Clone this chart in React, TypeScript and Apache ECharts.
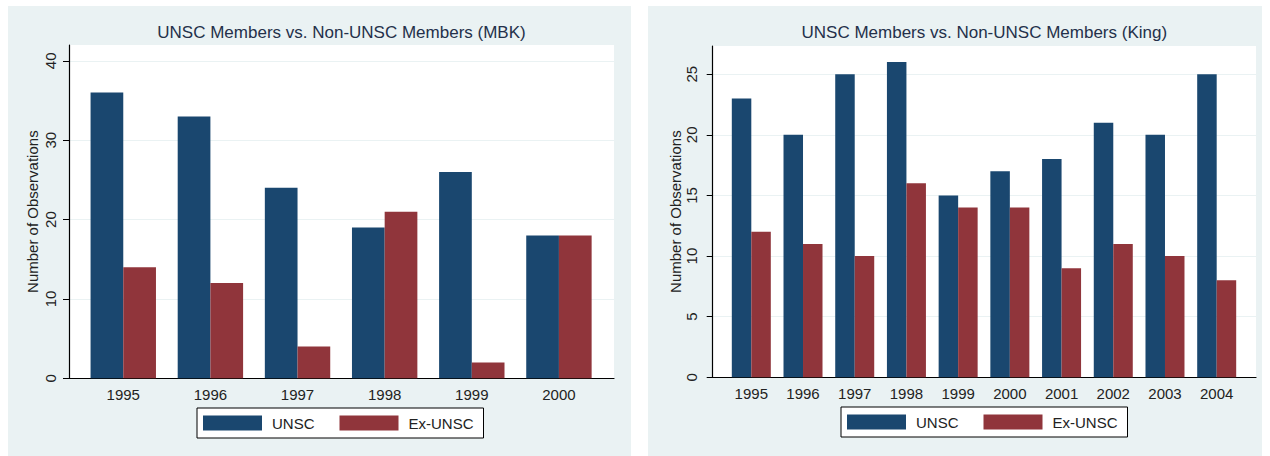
import React, { useEffect, useRef } from "react";
import * as echarts from "echarts";

const mbkYears = ["1995", "1996", "1997", "1998", "1999", "2000"];
const mbkUNSC = [36, 33, 24, 19, 26, 18];
const mbkExUNSC = [14, 12, 4, 21, 2, 18];
const mbkTicks = [0, 10, 20, 30, 40];

const kingYears = ["1995", "1996", "1997", "1998", "1999", "2000", "2001", "2002", "2003", "2004"];
const kingUNSC = [23, 20, 25, 26, 15, 17, 18, 21, 20, 25];
const kingExUNSC = [12, 11, 10, 16, 14, 14, 9, 11, 10, 8];
const kingTicks = [0, 5, 10, 15, 20, 25];

const titleLeft = "UNSC Members vs. Non-UNSC Members (MBK)";
const titleRight = "UNSC Members vs. Non-UNSC Members (King)";
const yName = "Number of Observations";

const NAVY = "#1a476f";
const MAROON = "#90353b";
const BG = "#eaf2f3";
const FONT = "'Liberation Sans', Arial, sans-serif";
const TXT = "#222222";

export default function App() {
  const ref = useRef<HTMLDivElement>(null);
  useEffect(() => {
    if (!ref.current) return;
    const chart = echarts.init(ref.current, undefined, { renderer: "svg" });

    const bgX = (gi: number) => ({
      type: "value" as const,
      gridIndex: gi,
      min: 0,
      max: 1,
      axisLine: { show: true, lineStyle: { color: "#000", width: 1.2 } },
      axisTick: { show: false },
      axisLabel: { show: false },
      splitLine: { show: false },
    });
    const catX = (gi: number, data: string[]) => ({
      type: "category" as const,
      gridIndex: gi,
      data,
      axisLine: { show: false },
      axisTick: { show: false },
      axisLabel: { fontSize: 15, color: TXT, fontFamily: FONT, margin: 9 },
    });
    const bgY = (gi: number, max: number, interval: number, ticks: number[], margin: number, nameGap: number) => ({
      type: "value" as const,
      gridIndex: gi,
      min: 0,
      max,
      interval,
      name: yName,
      nameLocation: "middle" as const,
      nameGap,
      nameTextStyle: { fontSize: 15, color: TXT, fontFamily: FONT },
      axisLine: { show: true, lineStyle: { color: "#000", width: 1.2 } },
      axisTick: { show: true, length: 6, lineStyle: { color: "#000" }, customValues: ticks },
      axisLabel: { rotate: 90, fontSize: 15, color: TXT, fontFamily: FONT, margin, customValues: ticks },
      splitLine: { show: true, lineStyle: { color: BG, width: 1 } },
    });
    const hidY = (gi: number, max: number) => ({
      type: "value" as const,
      gridIndex: gi,
      min: 0,
      max,
      show: false,
    });
    const legend = (left: number, top: number) => ({
      left,
      top,
      orient: "horizontal" as const,
      data: ["UNSC", "Ex-UNSC"],
      icon: "rect",
      itemWidth: 59,
      itemHeight: 15,
      itemGap: 25,
      padding: [7, 10, 7, 6],
      backgroundColor: "#fff",
      borderColor: "#000",
      borderWidth: 1,
      borderRadius: 0,
      selectedMode: false,
      textStyle: { fontSize: 15, color: TXT, fontFamily: FONT, padding: [0, 0, 0, 5], lineHeight: 16 },
    });

    chart.setOption({
      animation: false,
      backgroundColor: "#ffffff",
      graphic: [
        { type: "rect", z: -10, shape: { x: 8, y: 6, width: 623, height: 450 }, style: { fill: BG } },
        { type: "rect", z: -10, shape: { x: 648, y: 6, width: 614, height: 450 }, style: { fill: BG } },
        {
          type: "text",
          x: 341.5,
          y: 32,
          style: { text: titleLeft, textAlign: "center", textVerticalAlign: "middle", fontSize: 17, fontFamily: FONT, fill: "#24304a" },
        },
        {
          type: "text",
          x: 984.3,
          y: 32,
          style: { text: titleRight, textAlign: "center", textVerticalAlign: "middle", fontSize: 17, fontFamily: FONT, fill: "#24304a" },
        },
      ],
      legend: [legend(197, 408), legend(841, 407)],
      grid: [
        { left: 69, top: 45, width: 545, height: 333.3, show: true, backgroundColor: "#fff", borderWidth: 0 },
        { left: 79.7, top: 45, width: 522.8, height: 333.3 },
        { left: 712.7, top: 46, width: 543.3, height: 331.3, show: true, backgroundColor: "#fff", borderWidth: 0 },
        { left: 725.45, top: 46, width: 517.1, height: 331.3 },
      ],
      xAxis: [bgX(0), catX(1, mbkYears), bgX(2), catX(3, kingYears)],
      yAxis: [
        bgY(0, 42, 10, mbkTicks, 11, 29),
        hidY(1, 42),
        bgY(2, 27.33, 5, kingTicks, 14, 28),
        hidY(3, 27.33),
      ],
      series: [
        { name: "UNSC", type: "bar", xAxisIndex: 1, yAxisIndex: 1, data: mbkUNSC, barWidth: 32.7, barGap: "0%", itemStyle: { color: NAVY } },
        { name: "Ex-UNSC", type: "bar", xAxisIndex: 1, yAxisIndex: 1, data: mbkExUNSC, barWidth: 32.7, barGap: "0%", itemStyle: { color: MAROON } },
        { name: "UNSC", type: "bar", xAxisIndex: 3, yAxisIndex: 3, data: kingUNSC, barWidth: 19.5, barGap: "0%", itemStyle: { color: NAVY } },
        { name: "Ex-UNSC", type: "bar", xAxisIndex: 3, yAxisIndex: 3, data: kingExUNSC, barWidth: 19.5, barGap: "0%", itemStyle: { color: MAROON } },
      ],
    });
    return () => chart.dispose();
  }, []);
  return <div ref={ref} style={{ position: "fixed", left: 0, top: 0, width: 1270, height: 456 }} />;
}
